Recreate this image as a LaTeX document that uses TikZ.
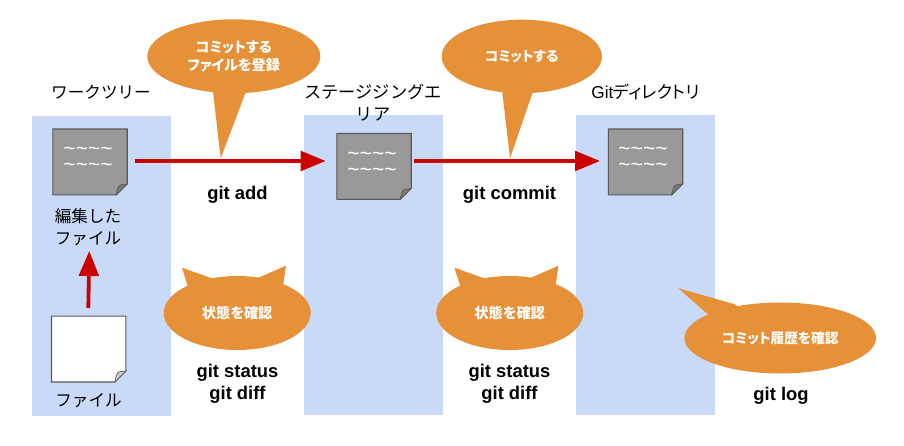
\documentclass[tikz,border=0pt]{standalone}
\usepackage{fontspec}
\setmainfont{Liberation Sans}
\newfontfamily\jp{Noto Sans CJK JP}
\newfontfamily\jpp[RawFeature=+palt]{Noto Sans CJK JP}
\usetikzlibrary{shapes.geometric,arrows.meta}
\definecolor{panelblue}{HTML}{C9DAF8}
\definecolor{calloutorange}{HTML}{E69138}
\definecolor{arrowred}{HTML}{CC0000}
\definecolor{docgrey}{HTML}{999999}
\definecolor{docline}{HTML}{595959}
\definecolor{folddark}{HTML}{7A7A7A}
\definecolor{foldlight}{HTML}{CCCCCC}
\tikzset{
  panel/.style={fill=panelblue,draw=none,minimum width=139pt,minimum height=300pt,inner sep=0pt},
  docbox/.style={minimum width=74pt,minimum height=65.5pt,inner sep=0pt},
  callout/.style={ellipse,fill=calloutorange,draw=none,inner sep=0pt,text=white,align=center,
    font=\jpp\bfseries\fontsize{14.2}{18}\selectfont},
  calloutsmall/.style={callout,font=\jpp\bfseries\fontsize{13.7}{18}\selectfont},
  tailpart/.style={fill=calloutorange,draw=none},
  jlabel/.style={align=center,inner sep=0pt,text=black,font=\jp\fontsize{16.6}{22}\selectfont},
  cmd/.style={align=center,inner sep=0pt,text=black,font=\bfseries\fontsize{18.4}{21.5}\selectfont},
  wave/.style={align=center,inner sep=0pt,text=white,font=\fontsize{21}{16}\selectfont},
  flow/.style={draw=arrowred,line width=3.8pt,-{Triangle[length=25pt,width=19.5pt,fill=arrowred]}},
}
\newcommand{\docshape}[3]{%
  \path[draw=docline,line width=1.1pt,fill=#2] (#1.north west) -- (#1.north east)
    -- ([yshift=11pt]#1.south east) -- ([xshift=-11pt]#1.south east) -- (#1.south west) -- cycle;
  \path[draw=docline,line width=0.7pt,fill=#3] ([xshift=-11pt]#1.south east)
    .. controls ([xshift=-10.5pt,yshift=4pt]#1.south east) and ([xshift=-9pt,yshift=9pt]#1.south east) .. ([xshift=-7pt,yshift=10pt]#1.south east)
    -- ([yshift=11pt]#1.south east) -- cycle;
}
\begin{document}
\begin{tikzpicture}[x=1pt,y=-1pt]
\useasboundingbox[fill=white] (0,0) rectangle (904,446);
% panels
\node[panel] (p1) at (101.5,266) {};
\node[panel] (p2) at (373.5,265) {};
\node[panel] (p3) at (645.5,265) {};
% headings
\node[jlabel] (h1) at (101,92) {ワークツリー};
\node[jlabel,font=\jp\fontsize{17.2}{22}\selectfont] (h2) at (373,103) {ステージジングエ\\リア};
\node[jlabel,font=\jpp\fontsize{17.2}{22}\selectfont] (h3) at (645.5,92) {{\fontspec{Liberation Sans}Git}ディレクトリ};
% documents
\node[docbox] (d1) at (90,162) {};
\node[docbox] (d2) at (374,166.5) {};
\node[docbox] (d3) at (645.5,162) {};
\node[docbox] (d0) at (88.7,349) {};
\docshape{d1}{docgrey}{folddark}
\docshape{d2}{docgrey}{folddark}
\docshape{d3}{docgrey}{folddark}
\docshape{d0}{white}{foldlight}
\node[wave] (w1) at (88,159) {\symbol{126}\symbol{126}\symbol{126}\symbol{126}\\\symbol{126}\symbol{126}\symbol{126}\symbol{126}};
\node[wave] (w2) at (372,164.5) {\symbol{126}\symbol{126}\symbol{126}\symbol{126}\\\symbol{126}\symbol{126}\symbol{126}\symbol{126}};
\node[wave] (w3) at (643,159) {\symbol{126}\symbol{126}\symbol{126}\symbol{126}\\\symbol{126}\symbol{126}\symbol{126}\symbol{126}};
% file labels
\node[jlabel] (l1) at (88,227) {編集した\\ファイル};
\node[jlabel] (l0) at (88.5,401) {ファイル};
% connectors
\coordinate (s1) at (135,161);
\coordinate (e1) at (325.7,161);
\coordinate (s2) at (414.3,161);
\coordinate (e2) at (600,161);
\coordinate (s3) at (88.3,308);
\coordinate (e3) at (89.3,251);
\draw[flow] (s1) -- (e1);
\draw[flow] (s2) -- (e2);
\draw[flow] (s3) -- (e3);
% callout 1
\coordinate (o1) at (233.8,56.3);
\coordinate (t1) at (220.7,158.3);
\coordinate (t1a) at (213,91.7);
\coordinate (t1b) at (245.7,92.3);
\fill[tailpart] (o1) -- (t1a) -- (t1) -- (t1b) -- cycle;
\node[callout,minimum width=173pt,minimum height=74pt] (c1) at (o1) {コミットする\\ファイルを登録};
% callout 2
\coordinate (o2) at (521.8,56.5);
\coordinate (t2) at (510,158.3);
\coordinate (t2a) at (502.3,92);
\coordinate (t2b) at (532.7,92.5);
\fill[tailpart] (o2) -- (t2a) -- (t2) -- (t2b) -- cycle;
\node[calloutsmall,minimum width=160.3pt,minimum height=73.6pt] (c2) at (o2) {コミットする};
% callout 3, with ears
\coordinate (o3) at (237.2,313);
\coordinate (a1) at (187.7,286);
\coordinate (a2) at (182,267.7);
\coordinate (a3) at (211.7,278.3);
\coordinate (a4) at (258.3,277.7);
\coordinate (a5) at (286,265.7);
\coordinate (a6) at (283.3,284.3);
\fill[tailpart] (o3) -- (a1) -- (a2) -- (a3) -- cycle;
\fill[tailpart] (o3) -- (a4) -- (a5) -- (a6) -- cycle;
\node[callout,minimum width=147pt,minimum height=74pt] (c3) at (o3) {状態を確認};
% callout 4, with ears
\coordinate (o4) at (509.7,313);
\coordinate (b1) at (460.2,286);
\coordinate (b2) at (454.5,267.7);
\coordinate (b3) at (484.2,278.3);
\coordinate (b4) at (530.8,277.7);
\coordinate (b5) at (558.5,265.7);
\coordinate (b6) at (555.8,284.3);
\fill[tailpart] (o4) -- (b1) -- (b2) -- (b3) -- cycle;
\fill[tailpart] (o4) -- (b4) -- (b5) -- (b6) -- cycle;
\node[callout,minimum width=147pt,minimum height=74pt] (c4) at (o4) {状態を確認};
% callout 5
\coordinate (o5) at (780.2,338);
\coordinate (t5) at (678.3,288.3);
\coordinate (t5a) at (735,304.3);
\coordinate (t5b) at (706.7,313.3);
\fill[tailpart] (o5) -- (t5a) -- (t5) -- (t5b) -- cycle;
\node[calloutsmall,minimum width=191.7pt,minimum height=71pt] (c5) at (o5) {コミット履歴を確認};
% commands
\node[cmd] (g1) at (237.5,195) {git add};
\node[cmd] (g2) at (509.5,195) {git commit};
\node[cmd,font=\bfseries\fontsize{18.4}{21.8}\selectfont] (g3) at (237.5,383.5) {git status\\git diff};
\node[cmd,font=\bfseries\fontsize{18.4}{21.8}\selectfont] (g4) at (509.5,383.5) {git status\\git diff};
\node[cmd] (g5) at (781,396) {git log};
\end{tikzpicture}
\end{document}
